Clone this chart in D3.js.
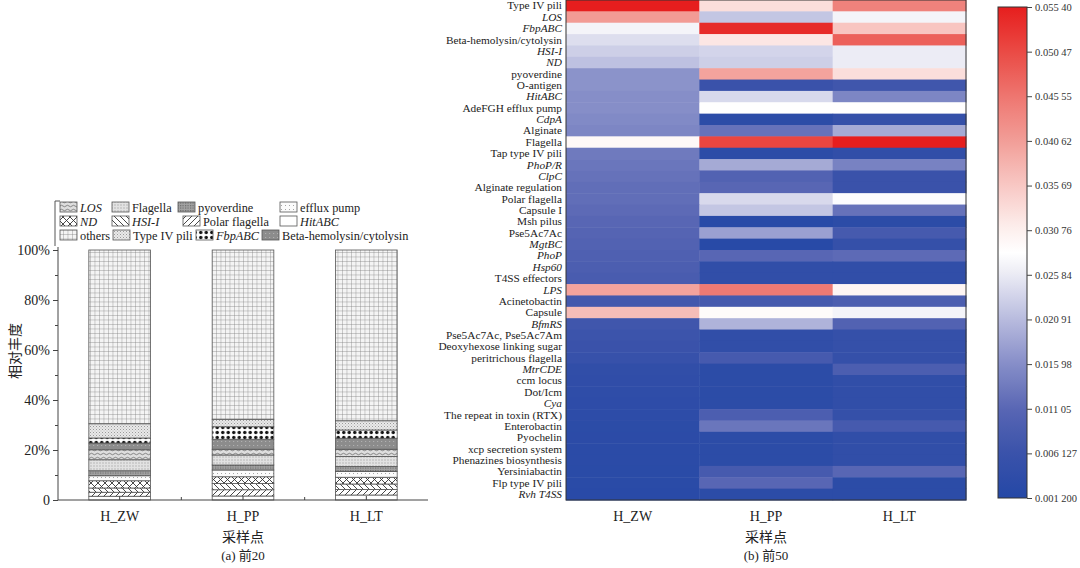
<!DOCTYPE html>
<html><head><meta charset="utf-8">
<script src="https://cdn.jsdelivr.net/npm/d3@7"></script>
<style>body{margin:0;background:#fff}svg{display:block}</style>
</head><body>
<svg id="c" width="1080" height="568"></svg>
<script>
// ---------- DATA ----------
const sites = ["H_ZW", "H_PP", "H_LT"];
// (a) stacked bars, keys bottom -> top, values in %
const stackKeys = ["HitABC","Polar flagella","HSI-I","ND","efflux pump","pyoverdine","Flagella","LOS","Beta-hemolysin/cytolysin","FbpABC","Type IV pili","others"];
const barZW = [1.5,1.6,1.7,2.9,2.0,2.0,4.4,4.0,2.7,2.0,5.7,69.5];
const barPP = [1.6,2.5,2.5,2.7,2.7,2.0,4.0,2.3,4.0,5.0,3.0,67.7];
const barLT = [2.0,2.2,2.2,2.7,2.3,2.0,4.0,2.9,4.4,3.3,3.7,68.3];
const yTickValues = [0,20,40,60,80,100];
const yTickLabels = ["0","20%","40%","60%","80%","100%"];
const legendRows = [
  ["LOS","Flagella","pyoverdine","efflux pump"],
  ["ND","HSI-I","Polar flagella","HitABC"],
  ["others","Type IV pili","FbpABC","Beta-hemolysin/cytolysin"]
];
const italicNames = ["LOS","ND","HSI-I","HitABC","FbpABC","CdpA","PhoP/R","ClpC","MgtBC","PhoP","Hsp60","LPS","BfmRS","MtrCDE","Cya","Rvh T4SS"];

// (b) heatmap
const genes = ["Type IV pili","LOS","FbpABC","Beta-hemolysin/cytolysin","HSI-I","ND","pyoverdine","O-antigen","HitABC","AdeFGH efflux pump","CdpA","Alginate","Flagella","Tap type IV pili","PhoP/R","ClpC","Alginate regulation","Polar flagella","Capsule I","Msh pilus","Pse5Ac7Ac","MgtBC","PhoP","Hsp60","T4SS effectors","LPS","Acinetobactin","Capsule","BfmRS","Pse5Ac7Ac, Pse5Ac7Am","Deoxyhexose linking sugar","peritrichous flagella","MtrCDE","ccm locus","Dot/Icm","Cya","The repeat in toxin (RTX)","Enterobactin","Pyochelin","xcp secretion system","Phenazines biosynthesis","Yersiniabactin","Flp type IV pili","Rvh T4SS"];
const hmZW = [0.0554,0.041,0.027,0.0245,0.023,0.0215,0.0165,0.0165,0.016,0.016,0.0155,0.015,0.0295,0.0135,0.013,0.0125,0.012,0.012,0.0115,0.011,0.0105,0.010,0.0095,0.009,0.0085,0.040,0.0075,0.037,0.007,0.0065,0.006,0.0055,0.004,0.0038,0.0036,0.0034,0.0032,0.003,0.0029,0.0028,0.0027,0.0026,0.0025,0.0024];
const hmPP = [0.033,0.022,0.054,0.032,0.0235,0.023,0.040,0.006,0.024,0.0285,0.003,0.0125,0.051,0.003,0.019,0.010,0.011,0.024,0.022,0.002,0.018,0.002,0.011,0.004,0.004,0.045,0.008,0.029,0.020,0.004,0.004,0.008,0.003,0.003,0.003,0.003,0.009,0.013,0.003,0.003,0.003,0.008,0.011,0.003];
const hmLT = [0.044,0.027,0.036,0.048,0.026,0.026,0.033,0.007,0.015,0.0285,0.005,0.019,0.0554,0.004,0.0145,0.006,0.006,0.028,0.0125,0.003,0.008,0.005,0.0115,0.004,0.004,0.030,0.009,0.027,0.010,0.005,0.005,0.005,0.009,0.004,0.004,0.004,0.005,0.008,0.004,0.004,0.004,0.011,0.003,0.003];
const cbTicks = [0.0012,0.006127,0.01105,0.01598,0.02091,0.02584,0.03076,0.03569,0.04062,0.04555,0.05047,0.0554];
const cbLabels = ["0.001 200","0.006 127","0.011 05","0.015 98","0.020 91","0.025 84","0.030 76","0.035 69","0.040 62","0.045 55","0.050 47","0.055 40"];

// ---------- SETUP ----------
const svg = d3.select("#c");
const serif = "'Liberation Serif','Times New Roman',serif";
const cjk = "'Noto Sans CJK SC',sans-serif";
const defs = svg.append("defs");

function pat(id, w, h, bg, draw) {
  const p = defs.append("pattern").attr("id", id).attr("patternUnits","userSpaceOnUse").attr("width", w).attr("height", h);
  p.append("rect").attr("width", w).attr("height", h).attr("fill", bg);
  draw(p);
}
pat("p-others", 4.5, 4.5, "#f4f4f4", p => {
  p.append("path").attr("d","M0,0H4.5M0,0V4.5").attr("stroke","#7e7e7e").attr("stroke-width",0.75);
});
pat("p-type4", 3, 3, "#e9e9e9", p => {
  p.append("rect").attr("x",0).attr("y",0).attr("width",1).attr("height",1).attr("fill","#9a9a9a");
  p.append("rect").attr("x",1.5).attr("y",1.5).attr("width",1).attr("height",1).attr("fill","#b5b5b5");
});
pat("p-fbp", 5.5, 5, "#ffffff", p => {
  p.append("circle").attr("cx",2.75).attr("cy",2.5).attr("r",1.7).attr("fill","#111");
});
pat("p-beta", 4, 4, "#8c8c8c", p => {
  p.append("rect").attr("x",1).attr("y",1).attr("width",1.2).attr("height",1).attr("fill","#b0b0b0");
});
pat("p-los", 6, 4, "#dedede", p => {
  p.append("path").attr("d","M0,2 Q1.5,0.5 3,2 T6,2").attr("fill","none").attr("stroke","#6f6f6f").attr("stroke-width",0.8);
});
pat("p-pyo", 2.5, 2.5, "#a2a2a2", p => {
  p.append("rect").attr("width",1.2).attr("height",1.2).attr("fill","#6c6c6c");
});
pat("p-flag", 3, 3, "#e2e2e2", p => {
  p.append("rect").attr("x",0.5).attr("y",0.5).attr("width",1).attr("height",1).attr("fill","#8f8f8f");
});
pat("p-efflux", 4, 4, "#fbfbfb", p => {
  p.append("rect").attr("x",1).attr("y",1).attr("width",1).attr("height",1).attr("fill","#a5a5a5");
});
pat("p-nd", 7, 7, "#ffffff", p => {
  p.append("path").attr("d","M0,0L7,7M7,0L0,7").attr("stroke","#333").attr("stroke-width",0.9);
});
pat("p-hsi", 6, 6, "#ffffff", p => {
  p.append("path").attr("d","M0,0L6,6M-1,5L1,7M5,-1L7,1").attr("stroke","#333").attr("stroke-width",0.9);
});
pat("p-polar", 6, 6, "#ffffff", p => {
  p.append("path").attr("d","M0,6L6,0M-1,1L1,-1M5,7L7,5").attr("stroke","#333").attr("stroke-width",0.9);
});
const fillOf = {
  "others":"url(#p-others)","Type IV pili":"url(#p-type4)","FbpABC":"url(#p-fbp)",
  "Beta-hemolysin/cytolysin":"url(#p-beta)","LOS":"url(#p-los)","pyoverdine":"url(#p-pyo)",
  "Flagella":"url(#p-flag)","efflux pump":"url(#p-efflux)","ND":"url(#p-nd)",
  "HSI-I":"url(#p-hsi)","Polar flagella":"url(#p-polar)","HitABC":"#ffffff"
};

// ---------- (a) STACKED BAR ----------
const rows = sites.map((s, i) => {
  const vals = [barZW, barPP, barLT][i];
  const o = {site: s};
  stackKeys.forEach((k, j) => o[k] = vals[j]);
  return o;
});
const stack = d3.stack().keys(stackKeys)(rows);
const xA = d3.scaleBand().domain(sites).range([58, 428]).paddingInner(0.5).paddingOuter(0.25);
const yA = d3.scaleLinear().domain([0, 100]).range([500, 250]);
const gA = svg.append("g");
stack.forEach(layer => {
  gA.append("g").selectAll("rect").data(layer).join("rect")
    .attr("x", d => xA(d.data.site))
    .attr("width", xA.bandwidth())
    .attr("y", d => yA(d[1]))
    .attr("height", d => yA(d[0]) - yA(d[1]))
    .attr("fill", fillOf[layer.key])
    .attr("stroke", "#555").attr("stroke-width", 0.8);
});
// y axis
const yAxis = d3.axisLeft(yA).tickValues(yTickValues).tickFormat((d, i) => yTickLabels[i]).tickSize(5).tickPadding(3);
const gy = gA.append("g").attr("transform", "translate(58,0)").call(yAxis);
gy.select(".domain").attr("stroke", "#444").attr("d", "M0,247V500");
gy.selectAll(".tick line").attr("stroke", "#444");
gy.selectAll("text").attr("font-family", serif).attr("font-size", 14).attr("fill", "#222");
gA.append("g").attr("transform", "translate(58,0)")
  .call(d3.axisLeft(yA).tickValues([10,30,50,70,90]).tickSize(3).tickFormat(""))
  .call(g => { g.select(".domain").remove(); g.selectAll("line").attr("stroke","#444"); });
// x axis
const gx = gA.append("g").attr("transform", "translate(0,500)");
gx.append("line").attr("x1", 58).attr("x2", 428).attr("stroke", "#444");
gx.selectAll(".ct").data(sites).join("line")
  .attr("x1", d => xA(d) + xA.bandwidth()/2).attr("x2", d => xA(d) + xA.bandwidth()/2)
  .attr("y1", 0).attr("y2", -4).attr("stroke", "#444");
gx.selectAll(".bt").data(sites.slice(1)).join("line")
  .attr("x1", d => xA(d) - xA.step()*xA.paddingInner()/2).attr("x2", d => xA(d) - xA.step()*xA.paddingInner()/2)
  .attr("y1", 0).attr("y2", -3).attr("stroke", "#444");
gA.append("g").selectAll("text").data(sites).join("text")
  .attr("x", d => xA(d) + xA.bandwidth()/2).attr("y", 521)
  .attr("text-anchor", "middle").attr("font-family", serif).attr("font-size", 14).attr("fill", "#222")
  .text(d => d);
gA.append("text").attr("transform", "translate(20,351) rotate(-90)").attr("text-anchor", "middle")
  .attr("font-family", cjk).attr("font-size", 14).attr("fill", "#222").text("相对丰度");
gA.append("text").attr("x", 243).attr("y", 542).attr("text-anchor", "middle")
  .attr("font-family", cjk).attr("font-size", 14).attr("fill", "#222").text("采样点");
const capA = gA.append("text").attr("x", 243).attr("y", 560).attr("text-anchor", "middle")
  .attr("font-size", 13).attr("fill", "#222");
capA.append("tspan").attr("font-family", serif).text("(a) ");
capA.append("tspan").attr("font-family", cjk).text("前");
capA.append("tspan").attr("font-family", serif).text("20");

// legend
const legX = [[60,112,178,280],[60,112,183,280],[60,113,196,262]];
const legY = [207, 221, 235];
const gL = gA.append("g");
gL.append("path").attr("d", "M60,201H55V246").attr("fill","none").attr("stroke","#555").attr("stroke-width",1);
legendRows.forEach((row, r) => {
  row.forEach((k, c) => {
    const x = legX[r][c], y = legY[r];
    gL.append("rect").attr("x", x).attr("y", y - 5).attr("width", 17).attr("height", 10)
      .attr("fill", fillOf[k]).attr("stroke", "#555").attr("stroke-width", 0.8);
    gL.append("text").attr("x", x + 20).attr("y", y + 4.5)
      .attr("font-family", serif).attr("font-size", 12.3).attr("fill", "#222")
      .attr("font-style", italicNames.includes(k) ? "italic" : "normal").text(k);
  });
});

// ---------- (b) HEATMAP ----------
const color = d3.scaleLinear()
  .domain([0.0012,0.0061,0.011,0.016,0.0209,0.0258,0.0283,0.0308,0.0357,0.0406,0.0455,0.0505,0.0554])
  .range(["#2448a6","#3a52aa","#5866b4","#868ec8","#b8bbde","#eaeaf4","#ffffff","#fdf0ee","#f8c8c4","#f29e98","#ee7670","#ea4a44","#e61e1e"])
  .clamp(true);
const xH = d3.scaleBand().domain(sites).range([566, 966]);
const yH = d3.scaleBand().domain(genes).range([0, 500]);
const cells = [];
genes.forEach((g, i) => sites.forEach((s, j) => cells.push({g, s, v: [hmZW, hmPP, hmLT][j][i]})));
const gH = svg.append("g");
gH.selectAll("rect").data(cells).join("rect")
  .attr("x", d => xH(d.s)).attr("y", d => yH(d.g))
  .attr("width", xH.bandwidth() + 0.5).attr("height", yH.bandwidth() + 0.5)
  .attr("fill", d => color(d.v));
gH.append("rect").attr("x", 566).attr("y", 0).attr("width", 400).attr("height", 500)
  .attr("fill", "none").attr("stroke", "#333").attr("stroke-width", 1);
gH.append("g").selectAll("text").data(genes).join("text")
  .attr("x", 562).attr("y", d => yH(d) + yH.bandwidth()/2 + 3.8)
  .attr("text-anchor", "end").attr("font-family", serif).attr("font-size", 11.3).attr("fill", "#222")
  .attr("font-style", d => italicNames.includes(d) ? "italic" : "normal").text(d => d);
gH.append("g").selectAll("text").data(sites).join("text")
  .attr("x", d => xH(d) + xH.bandwidth()/2).attr("y", 521)
  .attr("text-anchor", "middle").attr("font-family", serif).attr("font-size", 14).attr("fill", "#222").text(d => d);
gH.append("text").attr("x", 766).attr("y", 542).attr("text-anchor", "middle")
  .attr("font-family", cjk).attr("font-size", 14).attr("fill", "#222").text("采样点");
const capB = gH.append("text").attr("x", 766).attr("y", 560).attr("text-anchor", "middle")
  .attr("font-size", 13).attr("fill", "#222");
capB.append("tspan").attr("font-family", serif).text("(b) ");
capB.append("tspan").attr("font-family", cjk).text("前");
capB.append("tspan").attr("font-family", serif).text("50");

// colorbar
const cbY = d3.scaleLinear().domain([0.0012, 0.0554]).range([498, 7]);
const grad = defs.append("linearGradient").attr("id", "cbg").attr("x1", 0).attr("y1", 1).attr("x2", 0).attr("y2", 0);
d3.range(0, 1.0001, 0.02).forEach(t => {
  grad.append("stop").attr("offset", t).attr("stop-color", color(0.0012 + t * (0.0554 - 0.0012)));
});
const gC = svg.append("g");
gC.append("rect").attr("x", 998).attr("y", 7).attr("width", 29).attr("height", 491)
  .attr("fill", "url(#cbg)").attr("stroke", "#333").attr("stroke-width", 1);
const cbAxis = d3.axisRight(cbY).tickValues(cbTicks).tickFormat((d, i) => cbLabels[i]).tickSize(5).tickPadding(3);
const gca = gC.append("g").attr("transform", "translate(1027,0)").call(cbAxis);
gca.select(".domain").remove();
gca.selectAll("line").attr("stroke", "#444");
gca.selectAll("text").attr("font-family", serif).attr("font-size", 10.5).attr("fill", "#333");
</script>
</body></html>
